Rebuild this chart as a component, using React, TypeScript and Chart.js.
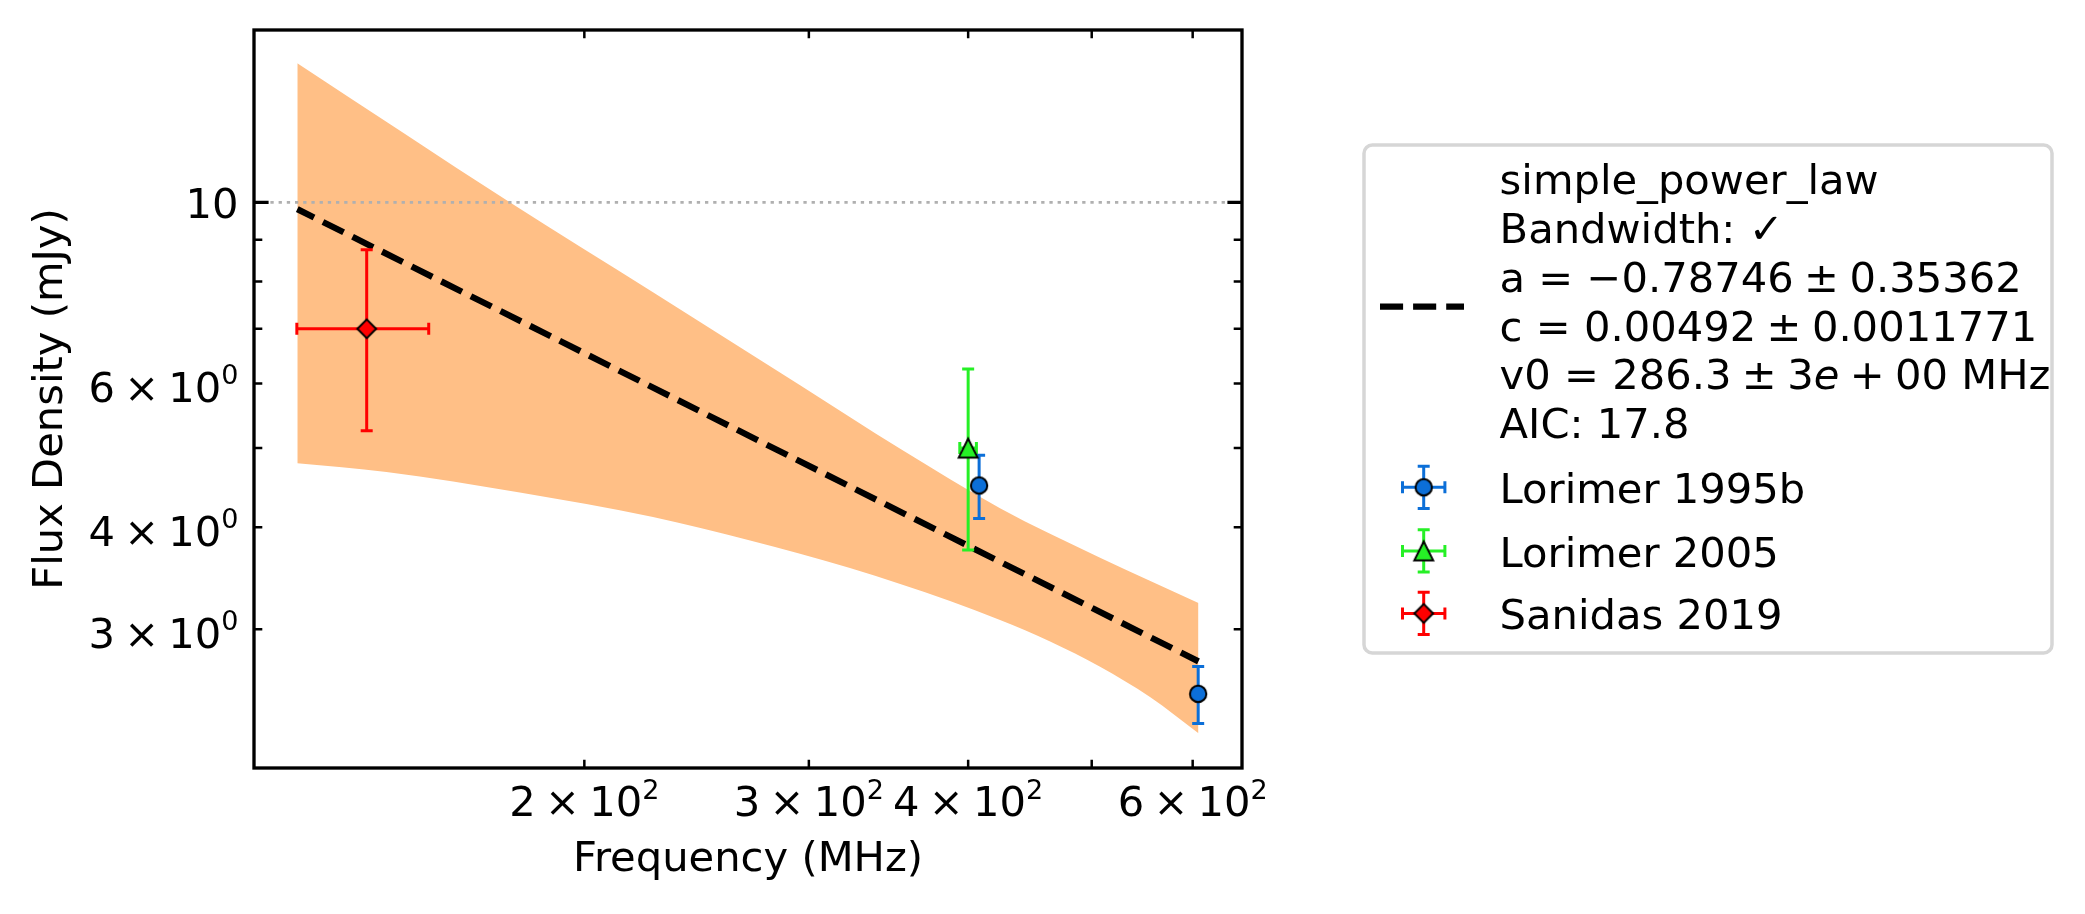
import React, { useEffect, useRef } from 'react';
import { Chart, registerables } from 'chart.js';

Chart.register(...registerables);

// ---------------- data ----------------
const fitFreq = [119.1, 606.3];
const fitFlux = [9.81, 2.74];

const bandUpperFreq = [119.1, 174.8, 226.4, 295.3, 353.8, 423.7, 507.6, 606.3];
const bandUpperFlux = [14.8, 10.0, 7.76, 5.97, 4.99, 4.22, 3.67, 3.23];
const bandLowerFreq = [119.1, 139.9, 178.0, 226.4, 269.8, 323.1, 353.8, 387.1, 423.7, 463.8, 507.6, 555.5, 606.3];
const bandLowerFlux = [4.79, 4.674, 4.412, 4.118, 3.853, 3.565, 3.408, 3.249, 3.079, 2.898, 2.699, 2.478, 2.237];

const lorimer1995bFreq = [408, 606];
const lorimer1995bFreqErr = [2, 2];
const lorimer1995bFlux = [4.5, 2.5];
const lorimer1995bFluxErr = [0.4, 0.2];

const lorimer2005Freq = [400];
const lorimer2005FreqErr = [6];
const lorimer2005Flux = [5.0];
const lorimer2005FluxErr = [1.25];

const sanidas2019Freq = [135];
const sanidas2019FreqErr = [16];
const sanidas2019Flux = [7.0];
const sanidas2019FluxErr = [1.75];

const xRange = [110.14, 655.9];
const yRange = [2.0284, 16.256];

const xTicks = [200, 300, 400, 500, 600];
const xTickLabels = ['2×10^2', '3×10^2', '4×10^2', '', '6×10^2'];
const yTicks = [3, 4, 5, 6, 7, 8, 9, 10];
const yMajorTicks = [10];
const yTickLabels = ['3×10^0', '4×10^0', '', '6×10^0', '', '', '', '10'];
const yGridValues = [10];

const xTitle = 'Frequency (MHz)';
const yTitle = 'Flux Density (mJy)';
// segments between '*' are drawn in italics (math-mode letters)
const fitLegendLines = [
  'simple_power_law',
  'Bandwidth: ✓',
  'a = −0.78746\u2005±\u20050.35362',
  'c = 0.00492\u2005±\u20050.0011771',
  'v0 = 286.3\u2005±\u20053*e*\u2005+\u200500 MHz',
  'AIC: 17.8',
];
const seriesNames = ['Lorimer 1995b', 'Lorimer 2005', 'Sanidas 2019'];
const seriesColors = ['#0c6fd8', '#26f026', '#ff0000'];
const seriesMarkers = ['circle', 'triangle', 'diamond'];

// ---------------- styling ----------------
const W = 2085;
const H = 914;
const FS = 41.67;
const SUP = 27;
const RAISE = 17.5;
const FF = '"DejaVu Sans", sans-serif';

const zip = (xs: number[], ys: number[]) => xs.map((x, i) => ({ x, y: ys[i] }));

function makeMarker(kind: string, color: string) {
  const c = document.createElement('canvas');
  c.width = 30;
  c.height = 30;
  const g = c.getContext('2d')!;
  g.beginPath();
  if (kind === 'circle') {
    g.arc(15, 15, 8.2, 0, Math.PI * 2);
  } else if (kind === 'triangle') {
    const s = 9.4;
    g.moveTo(15, 15 - s);
    g.lineTo(15 + s, 15 + s);
    g.lineTo(15 - s, 15 + s);
    g.closePath();
  } else {
    const d = 9.4;
    g.moveTo(15, 15 - d);
    g.lineTo(15 + d, 15);
    g.lineTo(15, 15 + d);
    g.lineTo(15 - d, 15);
    g.closePath();
  }
  g.fillStyle = color;
  g.fill();
  g.lineWidth = 2;
  g.lineJoin = 'miter';
  g.strokeStyle = '#000';
  g.stroke();
  return c;
}

function drawErrorBar(ctx: CanvasRenderingContext2D, px: number, py: number, xL: number, xR: number, yT: number, yB: number, color: string) {
  const cap = 6;
  ctx.save();
  ctx.strokeStyle = color;
  ctx.lineWidth = 3;
  ctx.lineCap = 'butt';
  ctx.setLineDash([]);
  ctx.beginPath();
  ctx.moveTo(xL, py); ctx.lineTo(xR, py);
  ctx.moveTo(px, yT); ctx.lineTo(px, yB);
  ctx.moveTo(xL, py - cap); ctx.lineTo(xL, py + cap);
  ctx.moveTo(xR, py - cap); ctx.lineTo(xR, py + cap);
  ctx.moveTo(px - cap, yT); ctx.lineTo(px + cap, yT);
  ctx.moveTo(px - cap, yB); ctx.lineTo(px + cap, yB);
  ctx.stroke();
  ctx.restore();
}

function drawTickLabel(ctx: CanvasRenderingContext2D, label: string, anchorX: number, baseline: number, align: string) {
  if (!label) return;
  const parts = label.split('×10^');
  ctx.font = `${FS}px ${FF}`;
  if (parts.length < 2) {
    const w = ctx.measureText(label).width;
    ctx.fillText(label, align === 'right' ? anchorX - w : anchorX - w / 2, baseline);
    return;
  }
  const [mant, exp] = parts;
  const gap = 0.222 * FS;
  const wM = ctx.measureText(mant).width;
  const wT = ctx.measureText('×').width;
  const w10 = ctx.measureText('10').width;
  ctx.font = `${SUP}px ${FF}`;
  const wE = ctx.measureText(exp).width;
  const total = wM + gap + wT + gap + w10 + wE;
  let x = align === 'right' ? anchorX - total : anchorX - total / 2;
  ctx.font = `${FS}px ${FF}`;
  ctx.fillText(mant, x, baseline); x += wM + gap;
  ctx.fillText('×', x, baseline); x += wT + gap;
  ctx.fillText('10', x, baseline); x += w10;
  ctx.font = `${SUP}px ${FF}`;
  ctx.fillText(exp, x, baseline - RAISE);
}

function drawRichLine(ctx: CanvasRenderingContext2D, text: string, x: number, baseline: number) {
  const segs = text.split('*');
  let cx = x;
  segs.forEach((s, i) => {
    if (!s) return;
    ctx.font = `${i % 2 === 1 ? 'italic ' : ''}${FS}px ${FF}`;
    ctx.fillText(s, cx, baseline);
    cx += ctx.measureText(s).width;
  });
}

function roundRectPath(ctx: CanvasRenderingContext2D, x: number, y: number, w: number, h: number, r: number) {
  ctx.beginPath();
  ctx.moveTo(x + r, y);
  ctx.lineTo(x + w - r, y);
  ctx.arcTo(x + w, y, x + w, y + r, r);
  ctx.lineTo(x + w, y + h - r);
  ctx.arcTo(x + w, y + h, x + w - r, y + h, r);
  ctx.lineTo(x + r, y + h);
  ctx.arcTo(x, y + h, x, y + h - r, r);
  ctx.lineTo(x, y + r);
  ctx.arcTo(x, y, x + r, y, r);
  ctx.closePath();
}

function makePlugin(markers: HTMLCanvasElement[]) {
  return {
    id: 'mplLook',
    beforeDraw(chart: any) {
      const ctx = chart.ctx;
      ctx.save();
      ctx.fillStyle = '#ffffff';
      ctx.fillRect(0, 0, chart.width, chart.height);
      ctx.restore();
    },
    afterDatasetDraw(chart: any, args: any) {
      const ds = chart.data.datasets[args.index];
      if (!ds.isBandTop) return;
      const ctx = chart.ctx;
      const ys = chart.scales.y;
      const { left, right } = chart.chartArea;
      ctx.save();
      ctx.strokeStyle = '#b0b0b0';
      ctx.lineWidth = 2.7;
      ctx.setLineDash([3.3, 4.9]);
      yGridValues.forEach((v) => {
        const py = ys.getPixelForValue(v);
        ctx.beginPath();
        ctx.moveTo(left, py);
        ctx.lineTo(right, py);
        ctx.stroke();
      });
      ctx.restore();
    },
    beforeDatasetDraw(chart: any, args: any) {
      const ds = chart.data.datasets[args.index];
      if (!ds.errY) return;
      const ctx = chart.ctx;
      const xs = chart.scales.x;
      const ys = chart.scales.y;
      ds.data.forEach((p: any, i: number) => {
        const px = xs.getPixelForValue(p.x);
        const py = ys.getPixelForValue(p.y);
        drawErrorBar(
          ctx, px, py,
          xs.getPixelForValue(p.x - ds.errX[i]), xs.getPixelForValue(p.x + ds.errX[i]),
          ys.getPixelForValue(p.y + ds.errY[i]), ys.getPixelForValue(p.y - ds.errY[i]),
          ds.errColor,
        );
      });
    },
    afterDraw(chart: any) {
      const ctx: CanvasRenderingContext2D = chart.ctx;
      const xs = chart.scales.x;
      const ys = chart.scales.y;
      const { left, right, top, bottom } = chart.chartArea;
      ctx.save();
      ctx.strokeStyle = '#000';
      ctx.fillStyle = '#000';
      ctx.lineCap = 'butt';
      ctx.setLineDash([]);
      // y ticks (inward, both sides)
      yTicks.forEach((v) => {
        const py = ys.getPixelForValue(v);
        const major = yMajorTicks.includes(v);
        const len = major ? 14.6 : 8.3;
        ctx.lineWidth = major ? 3.33 : 2.5;
        ctx.beginPath();
        ctx.moveTo(left, py); ctx.lineTo(left + len, py);
        ctx.moveTo(right, py); ctx.lineTo(right - len, py);
        ctx.stroke();
      });
      // x ticks (inward, both sides)
      xTicks.forEach((v) => {
        const px = xs.getPixelForValue(v);
        ctx.lineWidth = 2.5;
        ctx.beginPath();
        ctx.moveTo(px, bottom); ctx.lineTo(px, bottom - 8.3);
        ctx.moveTo(px, top); ctx.lineTo(px, top + 8.3);
        ctx.stroke();
      });
      // spines
      ctx.lineWidth = 3.33;
      ctx.lineJoin = 'miter';
      ctx.strokeRect(left, top, right - left, bottom - top);

      // tick labels
      ctx.textBaseline = 'alphabetic';
      ctx.textAlign = 'left';
      yTicks.forEach((v, i) => {
        const lab = yTickLabels[i];
        if (!lab) return;
        const py = ys.getPixelForValue(v);
        const sci = lab.includes('×');
        drawTickLabel(ctx, lab, left - 15.5, py + (sci ? 18.4 : 15.8), 'right');
      });
      xTicks.forEach((v, i) => {
        const lab = xTickLabels[i];
        if (!lab) return;
        const px = xs.getPixelForValue(v);
        drawTickLabel(ctx, lab, px, bottom + 48, 'center');
      });

      // axis titles
      ctx.font = `${FS}px ${FF}`;
      ctx.textAlign = 'center';
      ctx.fillText(xTitle, (left + right) / 2, 871.4);
      ctx.save();
      ctx.translate(61.7, (top + bottom) / 2);
      ctx.rotate(-Math.PI / 2);
      ctx.fillText(yTitle, 0, 0);
      ctx.restore();

      // legend
      const lx = 1364, ly = 145, lw = 688, lh = 508;
      roundRectPath(ctx, lx, ly, lw, lh, 8.3);
      ctx.fillStyle = '#ffffff';
      ctx.fill();
      ctx.strokeStyle = '#d6d6d6';
      ctx.lineWidth = 3.5;
      ctx.stroke();

      // fit handle
      ctx.strokeStyle = '#000';
      ctx.lineWidth = 6.25;
      ctx.setLineDash([23.1, 10]);
      ctx.beginPath();
      ctx.moveTo(1380, 306.5);
      ctx.lineTo(1464, 306.5);
      ctx.stroke();
      ctx.setLineDash([]);

      ctx.fillStyle = '#000';
      ctx.textAlign = 'left';
      fitLegendLines.forEach((t, i) => {
        drawRichLine(ctx, t, 1499.6, 194.2 + i * 48.8);
      });

      const entryY = [487.3, 550.9, 613.4];
      seriesNames.forEach((name, i) => {
        const my = entryY[i];
        const mx = 1423.7;
        drawErrorBar(ctx, mx, my, mx - 21.2, mx + 21.2, my - 21.1, my + 21.1, seriesColors[i]);
        const m = markers[i];
        ctx.drawImage(m, mx - m.width / 2, my - m.height / 2);
        ctx.fillStyle = '#000';
        ctx.font = `${FS}px ${FF}`;
        ctx.fillText(name, 1499.6, my + 15.6);
      });
      ctx.restore();
    },
  };
}

export default function App() {
  const ref = useRef<HTMLCanvasElement>(null);
  useEffect(() => {
    document.body.style.margin = '0';
    document.body.style.overflow = 'hidden';
    const canvas = ref.current!;
    const markers = seriesMarkers.map((k, i) => makeMarker(k, seriesColors[i]));
    const chart = new Chart(canvas, {
      type: 'line',
      data: {
        datasets: [
          {
            label: 'band upper',
            data: zip(bandUpperFreq, bandUpperFlux),
            borderWidth: 0,
            borderColor: 'rgba(0,0,0,0)',
            backgroundColor: '#ffbf86',
            pointRadius: 0,
            fill: '+1',
            cubicInterpolationMode: 'monotone',
            order: 10,
            isBandTop: true,
          } as any,
          {
            label: 'band lower',
            data: zip(bandLowerFreq, bandLowerFlux),
            borderWidth: 0,
            borderColor: 'rgba(0,0,0,0)',
            pointRadius: 0,
            fill: false,
            cubicInterpolationMode: 'monotone',
            order: 10,
          } as any,
          {
            label: 'simple_power_law',
            data: zip(fitFreq, fitFlux),
            borderColor: '#000000',
            borderWidth: 6.25,
            borderDash: [23.1, 10],
            borderDashOffset: 4.4,
            borderCapStyle: 'butt',
            pointRadius: 0,
            fill: false,
            order: 8,
          } as any,
          {
            label: seriesNames[0],
            data: zip(lorimer1995bFreq, lorimer1995bFlux),
            showLine: false,
            pointStyle: markers[0],
            pointRadius: 9,
            errX: lorimer1995bFreqErr,
            errY: lorimer1995bFluxErr,
            errColor: seriesColors[0],
            order: 3,
          } as any,
          {
            label: seriesNames[1],
            data: zip(lorimer2005Freq, lorimer2005Flux),
            showLine: false,
            pointStyle: markers[1],
            pointRadius: 10,
            errX: lorimer2005FreqErr,
            errY: lorimer2005FluxErr,
            errColor: seriesColors[1],
            order: 2,
          } as any,
          {
            label: seriesNames[2],
            data: zip(sanidas2019Freq, sanidas2019Flux),
            showLine: false,
            pointStyle: markers[2],
            pointRadius: 10,
            errX: sanidas2019FreqErr,
            errY: sanidas2019FluxErr,
            errColor: seriesColors[2],
            order: 1,
          } as any,
        ],
      },
      options: {
        animation: false,
        responsive: false,
        devicePixelRatio: 1,
        events: [],
        layout: { padding: { left: 254, top: 30, right: W - 1242, bottom: H - 768 } },
        scales: {
          x: { type: 'logarithmic', min: xRange[0], max: xRange[1], display: false, bounds: 'data' },
          y: { type: 'logarithmic', min: yRange[0], max: yRange[1], display: false, bounds: 'data' },
        },
        plugins: {
          legend: { display: false },
          tooltip: { enabled: false },
          filler: { propagate: false },
        },
      } as any,
      plugins: [makePlugin(markers)],
    });
    return () => chart.destroy();
  }, []);
  return (
    <div style={{ position: 'absolute', left: 0, top: 0, width: W, height: H, background: '#ffffff' }}>
      <canvas ref={ref} width={W} height={H} style={{ display: 'block', width: W, height: H }} />
    </div>
  );
}
